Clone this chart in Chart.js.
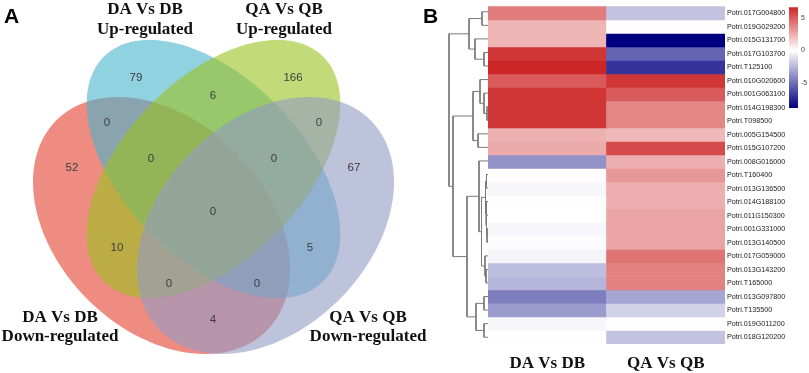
<!DOCTYPE html>
<html><head><meta charset="utf-8">
<script src="https://cdn.jsdelivr.net/npm/chart.js@4.4.1/dist/chart.umd.min.js"></script>
<style>
html,body{margin:0;padding:0;background:#fff;width:809px;height:373px;overflow:hidden}
canvas{position:absolute;top:0}
</style></head><body>
<canvas id="venn" width="440" height="373" style="left:0px;z-index:1"></canvas>
<canvas id="dendro" width="40" height="373" style="left:448px;z-index:2"></canvas>
<canvas id="heat" width="399" height="373" style="left:410px;z-index:3"></canvas>
<canvas id="cbar" width="29" height="120" style="left:780px;z-index:4"></canvas>
<script>
// ---------------- DATA ----------------
// Panel A: Venn diagram
const vennSetNames = ['DA Vs DB Down-regulated','DA Vs DB Up-regulated','QA Vs QB Up-regulated','QA Vs QB Down-regulated'];
const vennRegions = ['1','2','3','4','12','13','14','23','24','34','123','124','134','234','1234'];
const vennCounts  = [52, 79, 166, 67, 0, 10, 4, 6, 5, 0, 0, 0, 0, 0, 0];

// Panel B: heatmap
const genes = ['Potri.017G004800','Potri.019G029200','Potri.015G131700','Potri.017G103700','Potri.T125100',
  'Potri.010G020600','Potri.001G063100','Potri.014G198300','Potri.T098500','Potri.005G154500',
  'Potri.015G107200','Potri.008G016000','Potri.T160400','Potri.013G136500','Potri.014G188100',
  'Potri.011G150300','Potri.001G331000','Potri.013G140500','Potri.017G059000','Potri.013G143200',
  'Potri.T165000','Potri.013G097800','Potri.T135500','Potri.019G011200','Potri.018G120200'];
const comparisons = ['DA Vs DB','QA Vs QB'];
const daVsDb = [4.0, 2.3, 2.3, 6.2, 6.7, 5.1, 6.2, 6.2, 6.2, 2.4, 2.6, -3.8, 0.1, -0.3, -0.05, 0.0, -0.3, -0.1, -0.4, -2.3, -2.6, -4.5, -3.5, -0.3, -0.05];
const qaVsQb = [-2.1, 0.05, -8.9, -5.4, -7.1, 6.2, 5.1, 3.7, 3.7, 2.2, 5.6, 2.5, 3.2, 2.5, 2.5, 2.8, 2.8, 2.8, 4.3, 3.9, 3.9, -3.1, -1.6, -0.05, -2.1];
const colorTicks = [-5, 0, 5];
const colorRange = [-8.9, 6.7];
// row dendrogram, hclust style merges: negative = leaf (1-based row), positive = earlier merge
const dendroMerges = [
  [-1,-2,6],[-4,-5,4],[-3,2,13],[1,3,19],[-8,-9,1],[-7,5,4],[-6,6,8],[-10,-11,10],[7,8,15],
  [-13,-14,1.5],[-17,-18,1],[-16,11,1.5],[-15,12,2],[10,13,2.5],[-20,-21,2],[-19,15,3],[14,16,6.5],
  [-12,17,9],[-22,-23,4],[-24,-25,4],[19,20,12],[18,21,21],[9,22,35],[4,23,39]
];

// ---------------- LAYOUT / STYLE ----------------
const vennShapes = [
  {cx:161.5, cy:225.5, a:148.7, b:104.5, rot:45,  color:'rgba(227,63,47,0.6)'},
  {cx:213.5, cy:169,   a:157,   b:90,    rot:46,  color:'rgba(72,180,205,0.6)'},
  {cx:213.5, cy:169,   a:157,   b:90,    rot:134, color:'rgba(155,193,30,0.6)'},
  {cx:265.5, cy:225.5, a:148.7, b:104.5, rot:135, color:'rgba(147,155,197,0.6)'}
];
const vennLabelPos = {
  '1':[72,168],'2':[136,78],'3':[293,78],'4':[354,168],'12':[107,123],'13':[117,248],'14':[213,320],
  '23':[213,96],'24':[310,248],'34':[319,123],'123':[151,159],'124':[257,284],'134':[169,284],
  '234':[274,159],'1234':[213,212]
};
const vennTitles = [
  {lines:['DA Vs DB','Up-regulated'], x:145, y:[14,34]},
  {lines:['QA Vs QB','Up-regulated'], x:284, y:[14,34]},
  {lines:['DA Vs DB','Down-regulated'], x:60, y:[322,341]},
  {lines:['QA Vs QB','Down-regulated'], x:368, y:[322,341]}
];
const serifBold = 'bold 17px "Liberation Serif", "Times New Roman", serif';

function heatColor(v){
  const lo=[0,0,128], mid=[255,255,255], hi=[205,38,38];
  let t, c0, c1;
  if(v<0){ t=Math.min(1, v/colorRange[0]); c0=mid; c1=lo; }
  else { t=Math.min(1, v/colorRange[1]); c0=mid; c1=hi; }
  const c=c0.map((x,i)=>Math.round(x+(c1[i]-x)*t));
  return `rgb(${c[0]},${c[1]},${c[2]})`;
}

// ---------------- PANEL A ----------------
const vennPlugin = {
  id:'venn',
  beforeDatasetsDraw(chart){
    const {ctx, scales:{x,y}} = chart;
    ctx.save();
    vennShapes.forEach(s=>{
      const th=s.rot*Math.PI/180, ct=Math.cos(th), st=Math.sin(th);
      ctx.beginPath();
      for(let i=0;i<=180;i++){
        const t=i/180*2*Math.PI;
        const dx=s.a*Math.cos(t)*ct - s.b*Math.sin(t)*st;
        const dy=s.a*Math.cos(t)*st + s.b*Math.sin(t)*ct;
        const px=x.getPixelForValue(s.cx+dx), py=y.getPixelForValue(s.cy+dy);
        if(i===0) ctx.moveTo(px,py); else ctx.lineTo(px,py);
      }
      ctx.closePath();
      ctx.fillStyle=s.color;
      ctx.fill();
    });
    ctx.restore();
  },
  afterDatasetsDraw(chart){
    const {ctx, scales:{x,y}} = chart;
    const meta=chart.getDatasetMeta(0);
    ctx.save();
    ctx.fillStyle='#3c3c3c';
    ctx.font='11.5px "Liberation Sans", Arial, sans-serif';
    ctx.textAlign='center'; ctx.textBaseline='middle';
    meta.data.forEach((pt,i)=>{ ctx.fillText(String(vennCounts[i]), pt.x, pt.y); });
    ctx.fillStyle='#111';
    ctx.font=serifBold;
    ctx.textBaseline='alphabetic';
    vennTitles.forEach(t=>{
      t.lines.forEach((ln,j)=>ctx.fillText(ln, x.getPixelForValue(t.x), y.getPixelForValue(t.y[j])));
    });
    ctx.textAlign='left';
    ctx.fillStyle='#000';
    ctx.font='bold 21px "Liberation Sans", Arial, sans-serif';
    ctx.fillText('A', 4, 23);
    ctx.restore();
  }
};
new Chart(document.getElementById('venn'), {
  type:'scatter',
  data:{datasets:[{data:vennRegions.map(r=>({x:vennLabelPos[r][0], y:vennLabelPos[r][1]})), pointRadius:0}]},
  options:{responsive:false, animation:false, events:[],
    layout:{padding:0},
    plugins:{legend:{display:false}, tooltip:{enabled:false}},
    scales:{x:{type:'linear', display:false, min:0, max:440},
            y:{type:'linear', display:false, min:0, max:373, reverse:true}}},
  plugins:[vennPlugin]
});

// ---------------- PANEL B: dendrogram ----------------
(function(){
  const nodeY=[], nodeH=[];
  const yOf=k=>k<0 ? (-k-1)+0.5 : nodeY[k-1];
  const hOf=k=>k<0 ? 0 : nodeH[k-1];
  const ds=[];
  dendroMerges.forEach(([l,r,h])=>{
    const yl=yOf(l), yr=yOf(r);
    nodeY.push((yl+yr)/2); nodeH.push(h);
    ds.push({data:[{x:hOf(l),y:yl},{x:h,y:yl},{x:h,y:yr},{x:hOf(r),y:yr}],
      showLine:true, pointRadius:0, borderColor:'#7a7a7a', borderWidth:1, tension:0, fill:false});
  });
  new Chart(document.getElementById('dendro'), {
    type:'scatter',
    data:{datasets:ds},
    options:{responsive:false, animation:false, events:[],
      layout:{padding:{top:5,bottom:29,left:0,right:0}},
      plugins:{legend:{display:false}, tooltip:{enabled:false}},
      scales:{x:{type:'linear', display:false, min:0, max:40, reverse:true},
              y:{type:'linear', display:false, min:0, max:genes.length, reverse:true}}}
  });
})();

// ---------------- PANEL B: heatmap ----------------
const heatPlugin = {
  id:'heatLetter',
  afterDraw(chart){
    const ctx=chart.ctx; ctx.save();
    ctx.fillStyle='#000';
    ctx.font='bold 21px "Liberation Sans", Arial, sans-serif';
    ctx.textBaseline='alphabetic'; ctx.textAlign='left';
    ctx.fillText('B', 13, 23);
    ctx.restore();
  }
};
new Chart(document.getElementById('heat'), {
  type:'bar',
  data:{labels:comparisons,
    datasets:genes.map((g,i)=>({label:g, data:[1,1],
      backgroundColor:[heatColor(daVsDb[i]), heatColor(qaVsQb[i])],
      borderWidth:0, barPercentage:1, categoryPercentage:1, stack:'s'}))},
  options:{responsive:false, animation:false, events:[],
    layout:{padding:{left:78, top:5, right:0, bottom:0}},
    plugins:{legend:{display:false}, tooltip:{enabled:false}},
    scales:{
      x:{stacked:true, grid:{display:false, drawTicks:false}, border:{display:false},
         ticks:{padding:9, color:'#111', font:{family:'"Liberation Serif", "Times New Roman", serif', size:17, weight:'bold'}},
         afterFit(s){ s.height=29; }},
      y:{stacked:true, type:'linear', position:'right', min:0, max:genes.length, reverse:true,
         grid:{display:false, drawTicks:false}, border:{display:false},
         afterBuildTicks(s){ s.ticks=genes.map((g,i)=>({value:i+0.5})); },
         ticks:{autoSkip:false, padding:2, color:'#1a1a1a', font:{family:'"Liberation Sans", Arial, sans-serif', size:7.2},
           callback:(v)=>genes[Math.floor(v)]},
         afterFit(s){ s.width=84; }}
    }},
  plugins:[heatPlugin]
});

// ---------------- colour key ----------------
new Chart(document.getElementById('cbar'), {
  type:'bar',
  data:{labels:['key'], datasets:[{data:[colorRange], borderWidth:0, barPercentage:1, categoryPercentage:1,
    backgroundColor(ctx){
      const ca=ctx.chart.chartArea; if(!ca) return '#fff';
      const g=ctx.chart.ctx.createLinearGradient(0, ca.bottom, 0, ca.top);
      const n=20;
      for(let i=0;i<=n;i++){
        const v=colorRange[0]+(colorRange[1]-colorRange[0])*i/n;
        g.addColorStop(i/n, heatColor(v));
      }
      const z=(0-colorRange[0])/(colorRange[1]-colorRange[0]);
      g.addColorStop(z, heatColor(0));
      return g;
    }}]},
  options:{responsive:false, animation:false, events:[],
    layout:{padding:{left:9, top:5, bottom:12, right:0}},
    plugins:{legend:{display:false}, tooltip:{enabled:false}},
    scales:{
      x:{display:false},
      y:{position:'right', min:colorRange[0], max:colorRange[1],
         grid:{display:false, drawTicks:false}, border:{display:false},
         afterBuildTicks(s){ s.ticks=colorTicks.map(v=>({value:v})); },
         ticks:{padding:3, color:'#444', font:{family:'"Liberation Sans", Arial, sans-serif', size:7}},
         afterFit(s){ s.width=11; }}
    }}
});
</script>
</body></html>
